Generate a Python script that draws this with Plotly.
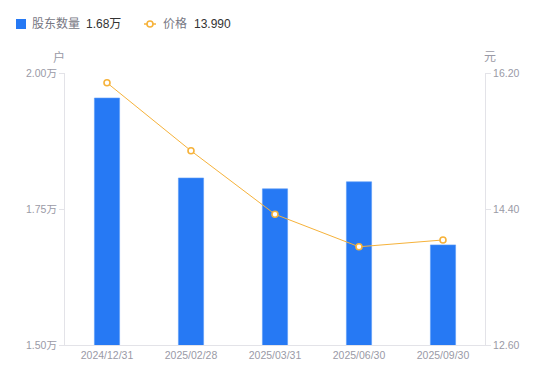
import plotly.graph_objects as go

dates = ["2024/12/31", "2025/02/28", "2025/03/31", "2025/06/30", "2025/09/30"]
holders_wan = [1.954, 1.807, 1.787, 1.800, 1.684]
price = [16.07, 15.17, 14.33, 13.90, 13.99]

left_ticks = [1.50, 1.75, 2.00]
left_ticktext = ["1.50万", "1.75万", "2.00万"]
right_ticks = [12.60, 14.40, 16.20]
right_ticktext = ["12.60", "14.40", "16.20"]

BLUE = "#2679f4"
ORANGE = "#f6b23a"
GRAY = "#9a9aa6"
AXIS = "#e3e3e8"
FONT = "Liberation Sans, Noto Sans CJK SC, sans-serif"

fig = go.Figure()
fig.add_trace(go.Bar(
    x=dates, y=holders_wan, marker=dict(color=BLUE, line=dict(color="#5b9af7", width=0.6)),
    width=0.3, yaxis="y", showlegend=False, hoverinfo="skip"))
fig.add_trace(go.Scatter(
    x=dates, y=price, mode="lines+markers", yaxis="y2",
    line=dict(color=ORANGE, width=1),
    marker=dict(symbol="circle", size=6, color="white", line=dict(color=ORANGE, width=1.6)),
    showlegend=False, hoverinfo="skip"))

# page body has an 8px margin, so the figure is 534x365 placed at (8,8)
fig.update_layout(
    width=534, height=365,
    margin=dict(l=57, r=57, t=65, b=28),
    paper_bgcolor="white", plot_bgcolor="white",
    font=dict(family=FONT, size=11, color=GRAY),
    xaxis=dict(type="category", showgrid=False, showline=True, linecolor=AXIS, linewidth=1,
               ticks="", tickfont=dict(size=10.5, color=GRAY), zeroline=False),
    yaxis=dict(range=[1.50, 2.00], tickvals=left_ticks, ticktext=left_ticktext,
               showgrid=False, showline=True, linecolor=AXIS, linewidth=1,
               ticks="outside", ticklen=5, tickcolor=AXIS, tickfont=dict(size=10.5, color=GRAY),
               zeroline=False),
    yaxis2=dict(range=[12.60, 16.20], tickvals=right_ticks, ticktext=right_ticktext,
                overlaying="y", side="right", showgrid=False, showline=True, linecolor=AXIS,
                linewidth=1, ticks="outside", ticklen=5, tickcolor=AXIS,
                tickfont=dict(size=10.5, color=GRAY), zeroline=False),
)

# helpers: page pixel -> paper coords (plot area spans page x 65..485, y 73..345)
def px_x(px):
    return (px - 65) / 420

def px_y(py):
    return (345 - py) / 272

# axis unit titles
fig.add_annotation(xref="paper", yref="paper", x=px_x(59), y=px_y(57), text="户",
                   showarrow=False, font=dict(size=12, color=GRAY), xanchor="center", yanchor="middle")
fig.add_annotation(xref="paper", yref="paper", x=px_x(490), y=px_y(57), text="元",
                   showarrow=False, font=dict(size=12, color=GRAY), xanchor="center", yanchor="middle")

# custom legend
fig.add_shape(type="rect", xref="paper", yref="paper",
              x0=px_x(16), x1=px_x(26), y0=px_y(29), y1=px_y(19),
              fillcolor=BLUE, line=dict(width=0))
fig.add_annotation(xref="paper", yref="paper", x=px_x(30), y=px_y(24), text="股东数量",
                   showarrow=False, xanchor="left", yanchor="middle", font=dict(size=12, color="#777783"))
fig.add_annotation(xref="paper", yref="paper", x=px_x(84), y=px_y(24), text=f"{holders_wan[-1]:.2f}万",
                   showarrow=False, xanchor="left", yanchor="middle", font=dict(size=12, color="#333333"))
fig.add_shape(type="line", xref="paper", yref="paper",
              x0=px_x(144), x1=px_x(156), y0=px_y(24), y1=px_y(24),
              line=dict(color=ORANGE, width=1.5))
fig.add_shape(type="circle", xref="paper", yref="paper",
              x0=px_x(147), x1=px_x(153), y0=px_y(27), y1=px_y(21),
              fillcolor="white", line=dict(color=ORANGE, width=1.6))
fig.add_annotation(xref="paper", yref="paper", x=px_x(161), y=px_y(24), text="价格",
                   showarrow=False, xanchor="left", yanchor="middle", font=dict(size=12, color="#777783"))
fig.add_annotation(xref="paper", yref="paper", x=px_x(192), y=px_y(24), text=f"{price[-1]:.3f}",
                   showarrow=False, xanchor="left", yanchor="middle", font=dict(size=12, color="#333333"))

fig.write_html("out.html")
